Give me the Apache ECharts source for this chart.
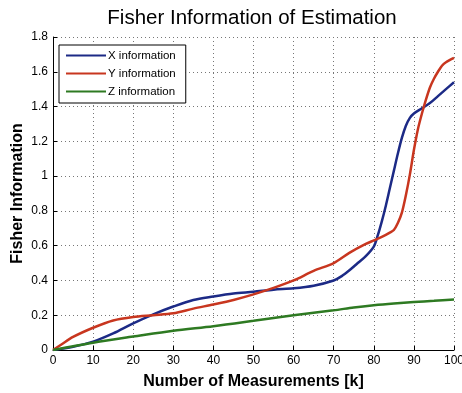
<!DOCTYPE html>
<html>
<head>
<meta charset="utf-8">
<script src="https://cdn.jsdelivr.net/npm/echarts@6/dist/echarts.min.js"></script>
<style>
html,body{margin:0;padding:0;background:#fff;}
#chart{width:462px;height:393px;}
</style>
</head>
<body>
<div id="chart"></div>
<script>
// data
var kX = [0,5,10,15,20,25,30,35,40,45,50,55,60,65,70,72,74,76,78,80,81,82,83,84,85,86,87,88,89,90,92,94,96,98,100];
var xInfo = [0,0.018,0.048,0.095,0.153,0.205,0.25,0.288,0.308,0.325,0.335,0.347,0.355,0.37,0.40,0.425,0.46,0.50,0.54,0.595,0.66,0.74,0.83,0.93,1.03,1.13,1.22,1.29,1.335,1.36,1.39,1.42,1.46,1.50,1.54];

var kY = [0,2,5,10,15,20,25,30,35,40,45,50,55,60,65,70,74,78,80,82,84,85,86,87,88,89,90,91,92,93,94,95,96,97,98,100];
var yInfo = [0,0.03,0.075,0.128,0.17,0.19,0.2,0.211,0.238,0.262,0.288,0.32,0.357,0.40,0.455,0.50,0.56,0.61,0.63,0.65,0.675,0.69,0.73,0.79,0.89,1.01,1.15,1.27,1.36,1.44,1.51,1.56,1.60,1.635,1.655,1.68];

var kZ = [0,10,20,30,40,50,60,70,75,80,85,90,95,100];
var zInfo = [0,0.042,0.077,0.111,0.137,0.168,0.20,0.228,0.245,0.258,0.268,0.276,0.283,0.29];

var seriesNames = ['X information','Y information','Z information'];
var seriesColors = ['#1c2a86','#c8361f','#2e7a22'];

function pairs(xs, ys) {
	var out = [];
	for (var i = 0; i < xs.length; i++) {
		out.push([xs[i], ys[i]]);
	}
	return out;
}

var font = 'Liberation Sans, Arial, sans-serif';
var dotted = {type:[1,3], color:'#777', width:1};

var option = {
	animation: false,
	title: {
		text: 'Fisher Information of Estimation',
		left: 247, top: 3, textAlign: 'center',
		textStyle: {fontFamily: font, fontSize: 20.5, fontWeight: 'normal', color: '#000'}
	},
	legend: {
		left: 59, top: 45, orient: 'vertical',
		backgroundColor: '#fff', borderColor: '#000', borderWidth: 1,
		padding: [4, 10, 5, 7], itemGap: 5,
		icon: 'rect', itemWidth: 40, itemHeight: 2,
		textStyle: {fontFamily: font, fontSize: 11.5, color: '#000', lineHeight: 13, padding: [0,0,0,-3]},
		data: seriesNames
	},
	grid: {left: 53, right: 8, top: 37, bottom: 43, outerBoundsMode: 'none'},
	xAxis: {
		type: 'value', min: 0, max: 100, interval: 10,
		name: 'Number of Measurements [k]', nameLocation: 'middle', nameGap: 24, nameMoveOverlap: false,
		nameTextStyle: {fontFamily: font, fontSize: 16, fontWeight: 'bold', color: '#000'},
		axisLine: {lineStyle: {color: '#000', width: 1}},
		axisTick: {inside: true, length: 4, lineStyle: {color: '#000'}},
		axisLabel: {fontFamily: font, fontSize: 12, color: '#000', margin: 5},
		splitLine: {show: true, lineStyle: dotted}
	},
	yAxis: {
		type: 'value', min: 0, max: 1.8, interval: 0.2,
		name: 'Fisher Information', nameLocation: 'middle', nameGap: 27, nameMoveOverlap: false,
		nameTextStyle: {fontFamily: font, fontSize: 16, fontWeight: 'bold', color: '#000'},
		axisLine: {show: true, lineStyle: {color: '#000', width: 1}},
		axisTick: {show: true, inside: true, length: 4, lineStyle: {color: '#000'}},
		axisLabel: {fontFamily: font, fontSize: 12, color: '#000', margin: 5,
			formatter: function(v) { return String(+v.toFixed(1)); }},
		splitLine: {show: true, lineStyle: dotted}
	},
	series: [
		{name: seriesNames[0], type: 'line', data: pairs(kX, xInfo), smooth: 0.3, symbol: 'none',
			lineStyle: {color: seriesColors[0], width: 2.5}, itemStyle: {color: seriesColors[0]}},
		{name: seriesNames[1], type: 'line', data: pairs(kY, yInfo), smooth: 0.3, symbol: 'none',
			lineStyle: {color: seriesColors[1], width: 2.5}, itemStyle: {color: seriesColors[1]}},
		{name: seriesNames[2], type: 'line', data: pairs(kZ, zInfo), smooth: 0.3, symbol: 'none',
			lineStyle: {color: seriesColors[2], width: 2.5}, itemStyle: {color: seriesColors[2]}}
	]
};

var myChart = echarts.init(document.getElementById('chart'));
myChart.setOption(option);
</script>
</body>
</html>
